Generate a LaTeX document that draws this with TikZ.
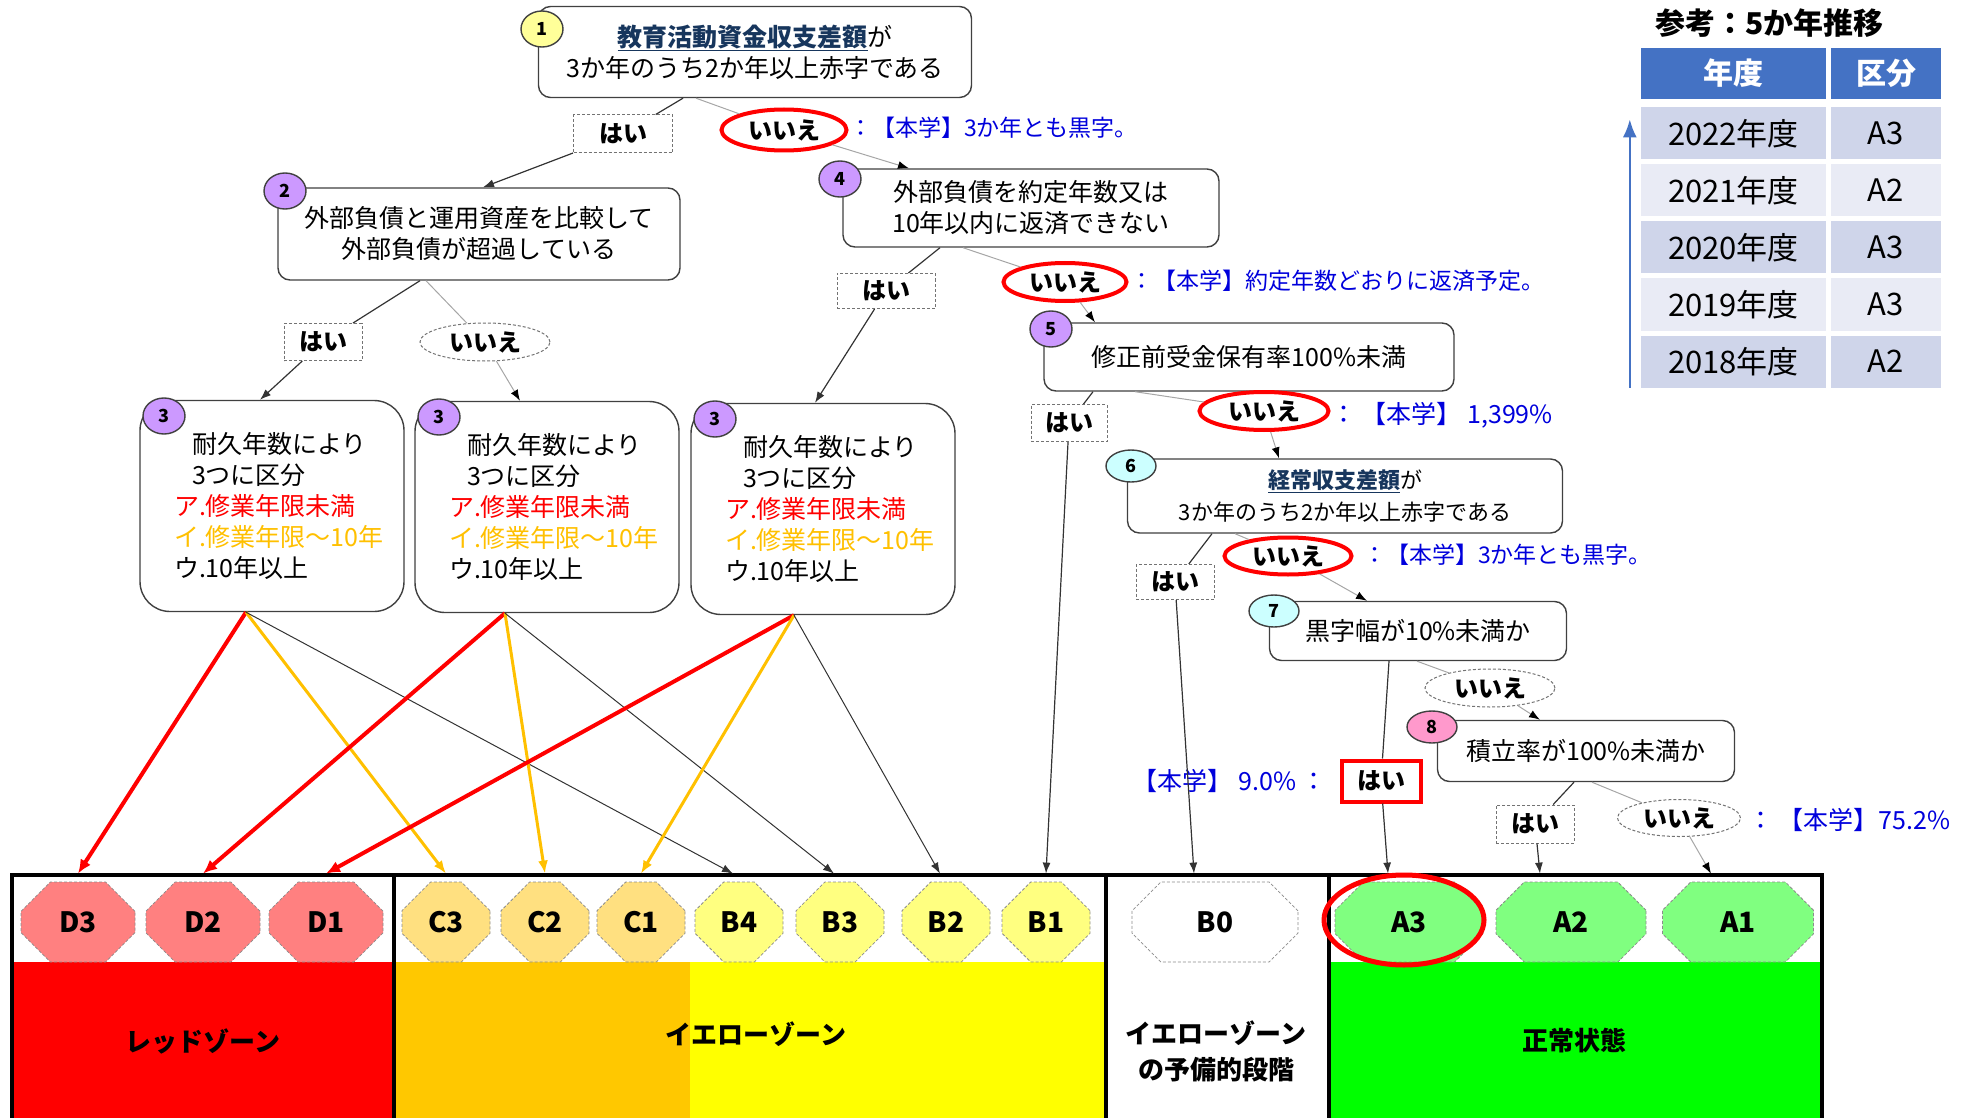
\documentclass[tikz,border=0pt]{standalone}
\usepackage{fontspec}
\setmainfont{Noto Sans CJK JP}
\usetikzlibrary{arrows.meta,shapes.geometric,shapes.misc}

\definecolor{noteblue}{RGB}{0,0,220}
\definecolor{navy}{RGB}{23,54,93}
\definecolor{numyel}{RGB}{255,255,153}
\definecolor{numpur}{RGB}{204,153,255}
\definecolor{numcyan}{RGB}{204,255,255}
\definecolor{numpink}{RGB}{255,153,204}
\definecolor{kinred}{RGB}{255,0,0}
\definecolor{kinorange}{RGB}{255,192,0}
\definecolor{zoneorange}{RGB}{255,200,0}
\definecolor{zoneyellow}{RGB}{255,255,0}
\definecolor{zonegreen}{RGB}{0,255,0}
\definecolor{octd}{RGB}{255,128,128}
\definecolor{octc}{RGB}{255,224,128}
\definecolor{octb}{RGB}{255,255,128}
\definecolor{octa}{RGB}{128,255,128}
\definecolor{tblhead}{RGB}{68,114,196}
\definecolor{rowdk}{RGB}{207,213,234}
\definecolor{rowlt}{RGB}{233,235,245}

\begin{document}
\begin{tikzpicture}[x=1pt, y=-1pt,
  qbox/.style={draw=black!75, line width=1.4pt, rounded corners=12pt, fill=white, align=center, inner sep=0pt, font=\fontsize{25}{31}\selectfont},
  longbox/.style={qbox, rounded corners=30pt, align=left, text width=264pt, minimum height=211pt},
  numc/.style={ellipse, draw=black!75, line width=1.4pt, minimum width=42pt, minimum height=36pt, inner sep=0pt, font=\fontsize{18}{18}\selectfont\bfseries},
  yesbox/.style={draw=black!55, densely dashed, line width=1pt, fill=white, minimum width=78pt, minimum height=37pt, inner sep=0pt, font=\fontsize{24}{24}\selectfont\bfseries},
  yesred/.style={yesbox, draw=kinred, solid, line width=4pt},
  nobox/.style={yesbox, ellipse, minimum width=130pt, minimum height=38pt},
  nored/.style={nobox, draw=kinred, solid, line width=4pt},
  notetxt/.style={text=noteblue, inner sep=0pt, font=\fontsize{23}{23}\selectfont},
  bignote/.style={notetxt, font=\fontsize{25}{25}\selectfont},
  oct/.style={chamfered rectangle, chamfered rectangle xsep=24pt, chamfered rectangle ysep=20pt, draw=black!45, densely dashed, line width=0.8pt, minimum height=80pt, inner sep=0pt, font=\fontsize{28}{28}\selectfont\bfseries},
  zonetxt/.style={align=center, font=\fontsize{26}{36}\selectfont\bfseries},
  tcell/.style={minimum height=52pt, inner sep=0pt, font=\fontsize{31}{31}\selectfont},
  yesln/.style={black!80, line width=1.2pt},
  arr/.style={yesln, -{Latex[length=11pt, width=8pt]}},
  noln/.style={black!35, line width=1pt},
  noarr/.style={noln, -{Latex[color=black, length=11pt, width=8pt]}},
  redarr/.style={kinred, line width=4pt, -{Latex[length=14pt, width=12pt]}},
  orgarr/.style={kinorange, line width=3pt, -{Latex[length=13pt, width=10pt]}},
  blkarr/.style={black!80, line width=1pt, -{Latex[length=11pt, width=8pt]}},
  zoneframe/.style={draw=black, line width=4pt},
]
\useasboundingbox (0,0) rectangle (1966,1118);

% zones
\fill[kinred] (14,962) rectangle (392,1118);
\fill[zoneorange] (396,962) rectangle (690,1118);
\fill[zoneyellow] (690,962) rectangle (1104,1118);
\fill[zonegreen] (1331,962) rectangle (1820,1118);
\draw[zoneframe] (10,875) -- (1824,875);
\foreach \x in {12,394,1106,1329,1822}
  \draw[zoneframe] (\x,875) -- (\x,1130);

\foreach \n/\x/\w/\f in {D3/78/114/octd, D2/203/114/octd, D1/326/114/octd,
    C3/446/88/octc, C2/545/88/octc, C1/641/88/octc,
    B4/739/88/octb, B3/840/88/octb, B2/946/88/octb, B1/1046/88/octb,
    B0/1215/166/white, A3/1409/148/octa, A2/1571/150/octa, A1/1738/151/octa} {
  \node (\n) [oct, fill=\f, minimum width=\w] at (\x,922) {\n};
}
\node (ringA3) [ellipse, draw=kinred, line width=5pt, minimum width=160pt, minimum height=90pt] at (1404,920) {};

\node (zr) [zonetxt] at (203,1041) {レッドゾーン};
\node (zy) [zonetxt] at (756,1034) {イエローゾーン};
\node (zb) [zonetxt] at (1216,1051) {イエローゾーン\\の予備的段階};
\node (zg) [zonetxt] at (1574,1041) {正常状態};

% questions
\node (b1) [qbox, minimum width=433pt, minimum height=91pt] at (755,52)
  {{\color{navy}\bfseries\underline{教育活動資金収支差額}}が\\3か年のうち2か年以上赤字である};
\node (b2) [qbox, minimum width=402pt, minimum height=92pt] at (479,234)
  {外部負債と運用資産を比較して\\外部負債が超過している};
\node (b4) [qbox, minimum width=376pt, minimum height=78pt] at (1031,208)
  {外部負債を約定年数又は\\10年以内に返済できない};
\node (b5) [qbox, minimum width=410pt, minimum height=68pt] at (1249,357) {修正前受金保有率100\%未満};
\node (b6) [qbox, minimum width=435pt, minimum height=74pt, font=\fontsize{22}{32}\selectfont] at (1345,496)
  {{\color{navy}\bfseries\underline{経常収支差額}}が\\3か年のうち2か年以上赤字である};
\node (b7) [qbox, minimum width=297pt, minimum height=59pt] at (1418,631) {黒字幅が10\%未満か};
\node (b8) [qbox, minimum width=297pt, minimum height=61pt] at (1586,751) {積立率が100\%未満か};

\foreach \n/\x/\y in {b3a/272/506, b3b/547/507, b3c/823/509} {
  \node (\n) [longbox] at (\x,\y)
    {\hspace*{52pt}耐久年数により\\\hspace*{52pt}3つに区分\\
     \hspace*{34pt}\textcolor{kinred}{ア.修業年限未満}\\
     \hspace*{34pt}\textcolor{kinorange}{イ.修業年限～10年}\\
     \hspace*{34pt}ウ.10年以上};
  \node (c\n) [numc, fill=numpur] at (\x-108,\y-90) {3};
}

\node (c1) [numc, fill=numyel] at (542,29) {1};
\node (c2) [numc, fill=numpur] at (285,191) {2};
\node (c4) [numc, fill=numpur] at (840,179) {4};
\node (c5) [numc, fill=numpur] at (1051,329) {5};
\node (c6) [numc, fill=numcyan, minimum width=50pt, minimum height=32pt] at (1131,466) {6};
\node (c7) [numc, fill=numcyan, minimum width=50pt, minimum height=32pt] at (1274,611) {7};
\node (c8) [numc, fill=numpink, minimum width=50pt, minimum height=32pt] at (1432,727) {8};

% answers
\node (y1) [yesbox, minimum width=99pt, minimum height=38pt] at (623,134) {はい};
\node (n1) [nored, minimum width=125pt, minimum height=41pt] at (784,130) {いいえ};
\node (y2) [yesbox] at (323,342) {はい};
\node (n2) [nobox] at (485,342) {いいえ};
\node (y4) [yesbox, minimum width=98pt, minimum height=35pt] at (886,291) {はい};
\node (n4) [nored, minimum width=123pt] at (1065,282) {いいえ};
\node (y5) [yesbox, minimum width=76pt] at (1069,423) {はい};
\node (n5) [nored, minimum width=129pt] at (1264,411) {いいえ};
\node (y6) [yesbox, minimum height=35pt] at (1175,582) {はい};
\node (n6) [nored, minimum width=127pt, minimum height=37pt] at (1288,556) {いいえ};
\node (y7) [yesred, minimum width=79pt, minimum height=41pt] at (1381,781) {はい};
\node (n7) [nobox] at (1490,688) {いいえ};
\node (y8) [yesbox, minimum height=38pt] at (1535,824) {はい};
\node (n8) [nobox, minimum width=123pt, minimum height=37pt] at (1679,818) {いいえ};

\node (t1) [notetxt, anchor=west] at (849,128) {：【本学】3か年とも黒字。};
\node (t4) [notetxt, anchor=west] at (1130,281) {：【本学】約定年数どおりに返済予定。};
\node (t5) [bignote, anchor=west] at (1331,415) {： 【本学】 1,399\%};
\node (t6) [notetxt, anchor=west] at (1363,555) {：【本学】3か年とも黒字。};
\node (t7) [bignote, anchor=east] at (1327,781) {【本学】 9.0\% ：};
\node (t8) [bignote, anchor=west] at (1748,820) {： 【本学】75.2\%};

\draw[yesln] ([xshift=-72pt]b1.south) -- (y1);
\draw[arr] (y1) -- ([xshift=4pt]b2.north);
\draw[noln] ([xshift=-59pt]b1.south) -- (n1);
\draw[noarr] (n1) -- ([xshift=-122pt]b4.north);
\draw[yesln] ([xshift=-59pt]b2.south) -- (y2);
\draw[arr] (y2) -- ([xshift=-12pt]b3a.north);
\draw[noln] ([xshift=-53pt]b2.south) -- (n2);
\draw[noarr] (n2) -- ([xshift=-27pt]b3b.north);
\draw[yesln] ([xshift=-91pt]b4.south) -- (y4);
\draw[arr] (y4) -- ([xshift=-8pt]b3c.north);
\draw[noln] ([xshift=-68pt]b4.south) -- (n4);
\draw[noarr] (n4) -- ([xshift=-154pt]b5.north);
\draw[yesln] ([xshift=-156pt]b5.south) -- (y5);
\draw[arr] (y5) -- ([yshift=8pt]B1.north);
\draw[noln] ([xshift=-114pt]b5.south) -- (n5);
\draw[noarr] (n5) -- ([xshift=-66pt]b6.north);
\draw[yesln] ([xshift=-133pt]b6.south) -- (y6);
\draw[arr] (y6) -- ([xshift=-21pt,yshift=8pt]B0.north);
\draw[noln] ([xshift=-110pt]b6.south) -- (n6);
\draw[noarr] (n6) -- ([xshift=-51pt]b7.north);
\draw[yesln] ([xshift=-29pt]b7.south) -- (y7);
\draw[arr] (y7) -- ([xshift=-21pt,yshift=8pt]A3.north);
\draw[noln] ([xshift=-1pt]b7.south) -- (n7);
\draw[noarr] (n7) -- ([xshift=-46pt]b8.north);
\draw[yesln] ([xshift=-12pt]b8.south) -- (y8);
\draw[arr] (y8) -- ([xshift=-31pt,yshift=8pt]A2.north);
\draw[noln] ([xshift=6pt]b8.south) -- (n8);
\draw[noarr] (n8) -- ([xshift=-27pt,yshift=8pt]A1.north);

\foreach \s/\dx/\d/\c/\b in {b3a/-26/D3/C3/B4, b3b/-42/D2/C2/B3, b3c/-29/D1/C1/B2} {
  \draw[redarr] ([xshift=\dx pt]\s.south) -- ([yshift=8pt]\d.north);
  \draw[orgarr] ([xshift=\dx pt]\s.south) -- ([yshift=8pt]\c.north);
  \draw[blkarr] ([xshift=\dx pt]\s.south) -- ([xshift=-6pt,yshift=8pt]\b.north);
}

% table
\node (ttl) [anchor=west, font=\fontsize{30}{30}\selectfont\bfseries] at (1652,23) {参考：5か年推移};
\node (hy) [tcell, fill=tblhead, text=white, minimum width=185pt, minimum height=51pt, font=\fontsize{30}{30}\selectfont\bfseries] at (1733.5,73.5) {年度};
\node (hc) [tcell, fill=tblhead, text=white, minimum width=110pt, minimum height=51pt, font=\fontsize{30}{30}\selectfont\bfseries] at (1886,73.5) {区分};
\foreach [evaluate={\ry=76.5+57*\i;}] \i/\yr/\cl/\f in {1/2022/A3/rowdk, 2/2021/A2/rowlt, 3/2020/A3/rowdk, 4/2019/A3/rowlt, 5/2018/A2/rowdk} {
  \node (ry\i) [tcell, fill=\f, minimum width=185pt] at (1733.5,\ry) {\yr{}年度};
  \node (rc\i) [tcell, fill=\f, minimum width=110pt] at (1886,\ry) {\cl};
}
\draw[tblhead, line width=2.5pt, -{Latex[length=18pt, width=14pt]}]
  ([xshift=-11pt]ry5.south west) -- ([xshift=-11pt,yshift=-12pt]ry1.north west);

\end{tikzpicture}
\end{document}
